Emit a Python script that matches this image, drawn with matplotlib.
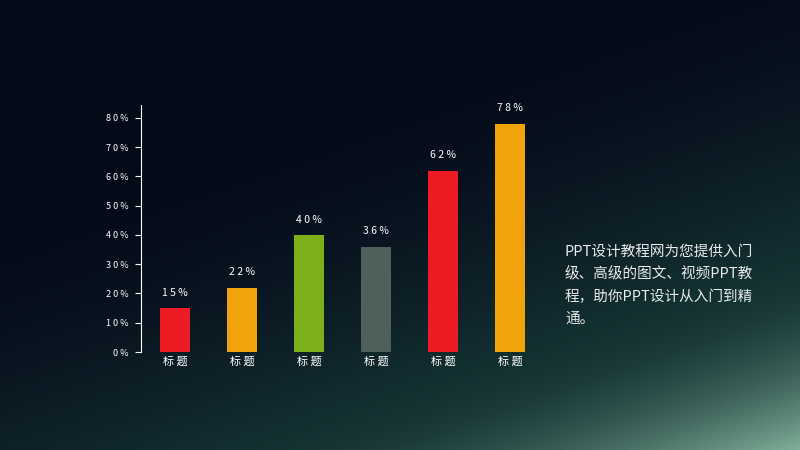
import numpy as np
import matplotlib.pyplot as plt

plt.rcParams['font.family'] = ['Noto Sans CJK SC', 'DejaVu Sans']

categories = ['标 题'] * 6
values = [15, 22, 40, 36, 62, 78]
colors = ['#ED1C24', '#F0A30A', '#7DAF1B', '#4E5F5C', '#ED1C24', '#F0A30A']
yticks = [0, 10, 20, 30, 40, 50, 60, 70, 80]
note = 'PPT设计教程网为您提供入门\n级、高级的图文、视频PPT教\n程，助你PPT设计从入门到精\n通。'

fig = plt.figure(figsize=(8, 4.5), dpi=100)
bg = fig.add_axes([0, 0, 1, 1])
yy, xx = np.mgrid[0:1:225j, 0:1:400j]
yy = 1 - yy
t = np.clip((xx * 0.55 + yy * 0.9) - 0.45, 0, 1) ** 1.6
c0 = np.array([0.02, 0.04, 0.10])
c1 = np.array([0.08, 0.20, 0.20])
c2 = np.array([0.50, 0.68, 0.60])
t2 = np.clip((t - 0.5) / 0.5, 0, 1)
img = c0 + (c1 - c0) * np.clip(t * 2, 0, 1)[..., None] + (c2 - c1) * (t2 ** 1.5)[..., None]
bg.imshow(img, extent=[0, 1, 0, 1], origin='lower', aspect='auto')
bg.axis('off')

ax = fig.add_axes([141/800, 1-352/450, 404/800, 247/450])
ax.patch.set_alpha(0)
x = np.arange(len(values))
ax.bar(x, values, width=0.45, color=colors)
for xi, v in zip(x, values):
    ax.text(xi, v + 3.5, ' '.join(f'{v}%'), ha='center', va='bottom', color='white', fontsize=7.5)
ax.set_xlim(-0.507, 5.52)
ax.set_ylim(0, 84.4)
ax.set_yticks(yticks)
ax.set_yticklabels([' '.join(f'{v}%') for v in yticks], color='white', fontsize=6.5)
ax.set_xticks(x)
ax.set_xticklabels(categories, color='white', fontsize=8)
for s in ['top', 'right', 'bottom']:
    ax.spines[s].set_visible(False)
ax.spines['left'].set_color('white')
ax.tick_params(axis='y', colors='white', length=4, pad=5, direction='out')
ax.tick_params(axis='x', length=0, pad=3)

fig.text(565/800, 1-285/450, note, color='#E8ECEC', fontsize=10.5, va='center', ha='left',
         linespacing=1.7)
fig.savefig('out.png', dpi=100)
